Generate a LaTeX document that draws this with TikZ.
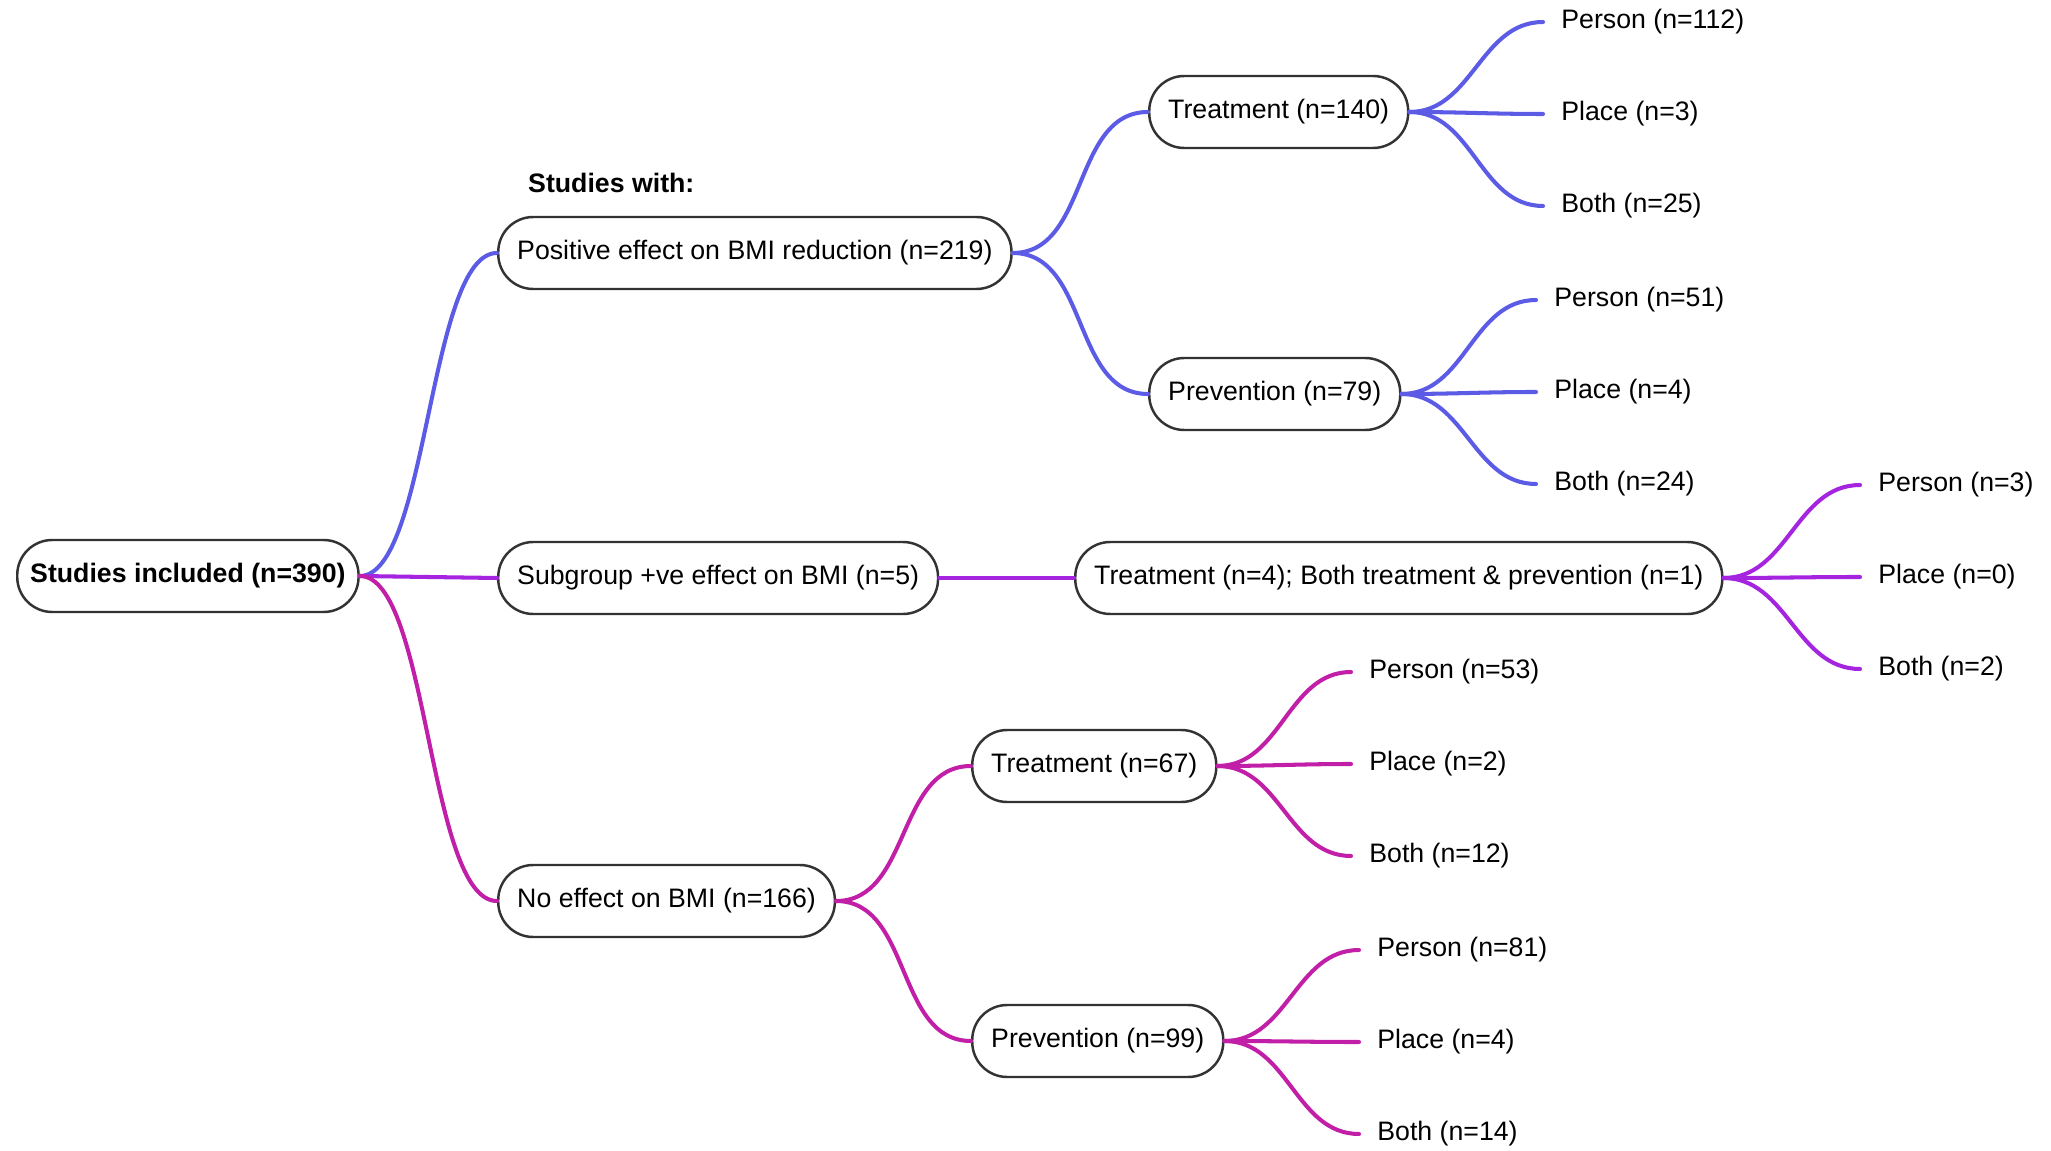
\documentclass[tikz,border=0pt]{standalone}
\usepackage{fontspec}
\setmainfont{Liberation Sans}
\usetikzlibrary{positioning}
\definecolor{posblue}{HTML}{5B5BE6}
\definecolor{subpurple}{HTML}{A424E0}
\definecolor{nomagenta}{HTML}{C21FA8}
\definecolor{boxline}{HTML}{333333}
\tikzset{
  every node/.append style={font=\fontsize{15.2}{18}\selectfont},
  box/.style={draw=boxline, line width=1.4pt, fill=white, rounded corners=0.7cm,
    minimum height=1.44cm, inner xsep=0.38cm, anchor=west},
  leaf/.style={inner xsep=0.36cm, inner ysep=2pt, anchor=west},
  link/.style={line width=2.3pt, draw=#1, line cap=round}
}
\newcommand\leaves[6]{
  % #1 - colour of the lines
  % #2 - parent node
  % #3 - end of the middle line
  % #4, #5, #6 - counts for Person, Place, Both
  % for example: \leaves{posblue}{treat}{1543,114}{112}{3}{25}
  \node [leaf] at (#3) (#2-place) {Place (n=#5)};
  \node [leaf, yshift=1.84cm] at (#3) (#2-person) {Person (n=#4)};
  \node [leaf, yshift=-1.84cm] at (#3) (#2-both) {Both (n=#6)};
  \foreach \k in {person,place,both}
    \draw[link=#1] (#2.east) to[out=0, in=180] (#2-\k.west);
}

\begin{document}
\begin{tikzpicture}[x=0.02cm, y=-0.02cm]
  \useasboundingbox (0,0) rectangle (2051,1151);

  \node [box, inner xsep=0.26cm] at (16,576) (root) {\textbf{Studies included (n=390)}};
  \node [anchor=west] at (522,183) (with) {\textbf{Studies with:}};

  \node [box] at (497,253) (positive) {Positive effect on BMI reduction (n=219)};
  \node [box] at (497,578) (subgroup) {Subgroup +ve effect on BMI (n=5)};
  \node [box] at (497,901) (noeffect) {No effect on BMI (n=166)};

  \node [box] at (1148,112) (postreat) {Treatment (n=140)};
  \node [box] at (1148,394) (posprev) {Prevention (n=79)};
  \node [box] at (1074,578) (subtreat) {Treatment (n=4); Both treatment \& prevention (n=1)};
  \node [box] at (971,766) (notreat) {Treatment (n=67)};
  \node [box] at (971,1041) (noprev) {Prevention (n=99)};

  \draw[link=posblue] (root.east) to[out=0, in=180, looseness=0.5] (positive.west);
  \draw[link=subpurple] (root.east) -- (subgroup.west);
  \draw[link=nomagenta] (root.east) to[out=0, in=180, looseness=0.5] (noeffect.west);

  \draw[link=posblue] (positive.east) to[out=0, in=180] (postreat.west);
  \draw[link=posblue] (positive.east) to[out=0, in=180] (posprev.west);
  \draw[link=subpurple] (subgroup.east) -- (subtreat.west);
  \draw[link=nomagenta] (noeffect.east) to[out=0, in=180] (notreat.west);
  \draw[link=nomagenta] (noeffect.east) to[out=0, in=180] (noprev.west);

  \leaves{posblue}{postreat}{1543,114}{112}{3}{25}
  \leaves{posblue}{posprev}{1536,392}{51}{4}{24}
  \leaves{subpurple}{subtreat}{1860,577}{3}{0}{2}
  \leaves{nomagenta}{notreat}{1351,764}{53}{2}{12}
  \leaves{nomagenta}{noprev}{1359,1042}{81}{4}{14}
\end{tikzpicture}
\end{document}
